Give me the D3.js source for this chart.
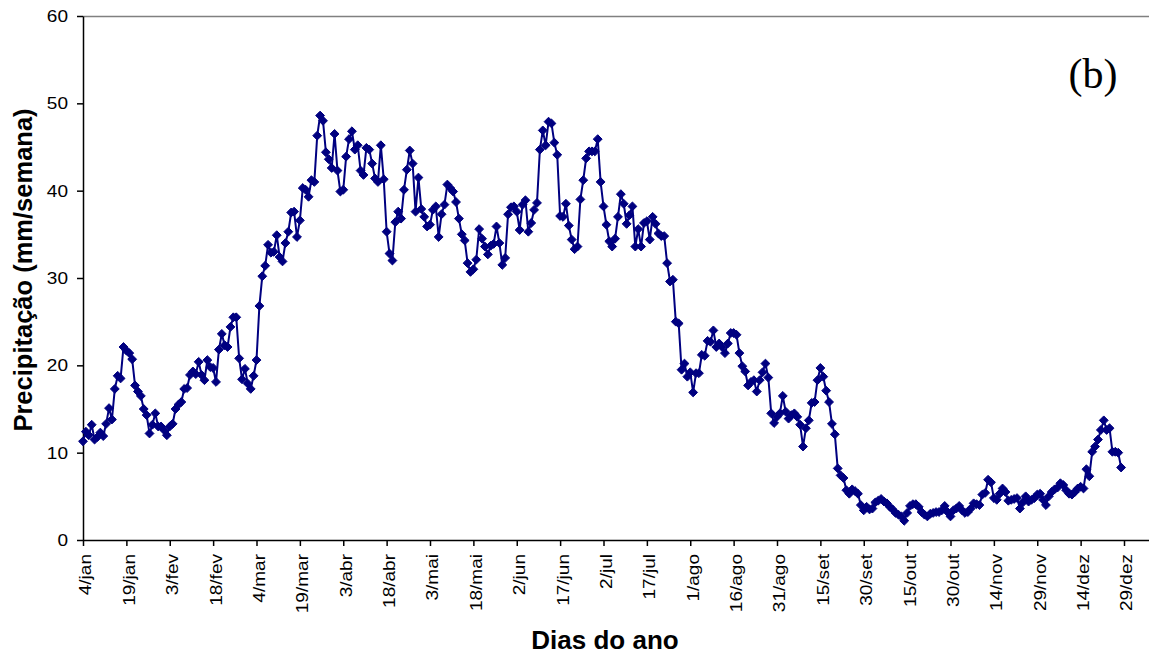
<!DOCTYPE html>
<html>
<head>
<meta charset="utf-8">
<script src="https://cdn.jsdelivr.net/npm/d3@7"></script>
<style>
  body { margin: 0; background: #fff; }
  svg { display: block; }
</style>
</head>
<body>
<div id="root"></div>
<script>
// tick labels, one every 15 days starting 4/jan
const tickLabels = ['4/jan', '19/jan', '3/fev', '18/fev', '4/mar', '19/mar', '3/abr', '18/abr',
  '3/mai', '18/mai', '2/jun', '17/jun', '2/jul', '17/jul', '1/ago', '16/ago', '31/ago',
  '15/set', '30/set', '15/out', '30/out', '14/nov', '29/nov', '14/dez', '29/dez'];
const yTicks = [0, 10, 20, 30, 40, 50, 60];

// weekly rainfall (mm/semana), one value per day, grouped by 15-day block
const janFeb = [
  11.3, 12.4, 12.0, 13.2, 11.5, 11.8, 12.3, 11.9, 13.3, 15.1, 13.8, 17.3, 18.8, 18.5, 22.1,
  21.7, 21.4, 20.7, 17.7, 17.0, 16.5, 15.0, 14.3, 12.2, 13.2, 14.5, 13.0, 13.0, 12.6, 12.0,
  13.0, 13.3, 15.0, 15.5, 15.8, 17.3, 17.4, 18.9, 19.3, 19.0, 20.4, 18.9, 18.3, 20.6, 19.8,
  19.7, 18.1, 21.8, 23.6, 22.3, 22.1, 24.4, 25.5, 25.5, 20.8, 18.4, 19.6, 17.9, 17.3, 18.8
];
const marApr = [
  20.6, 26.8, 30.2, 31.4, 33.8, 32.9, 33.0, 34.9, 32.4, 31.9, 34.0, 35.3, 37.5, 37.6, 34.7,
  36.6, 40.3, 40.1, 39.3, 41.2, 41.0, 46.3, 48.6, 48.0, 44.4, 43.6, 42.6, 46.5, 42.3, 39.9,
  40.1, 43.9, 45.9, 46.8, 44.7, 45.2, 42.3, 41.8, 44.9, 44.7, 43.1, 41.4, 41.0, 45.2, 41.3,
  35.3, 32.8, 32.0, 36.4, 37.6, 36.8, 40.1, 42.4, 44.6, 43.1, 37.6, 41.5, 37.9, 37.0, 35.9
];
const maiJun = [
  36.1, 37.8, 38.2, 34.7, 37.3, 38.4, 40.7, 40.3, 39.9, 38.7, 36.8, 35.0, 34.3, 31.7, 30.7,
  31.0, 32.1, 35.6, 34.5, 33.6, 32.7, 33.7, 33.9, 35.9, 34.0, 31.5, 32.3, 37.3, 38.1, 38.2,
  37.6, 35.5, 38.4, 38.9, 35.3, 36.3, 37.8, 38.6, 44.7, 46.9, 45.2, 47.9, 47.7, 45.5, 44.1,
  37.1, 37.0, 38.5, 36.0, 34.4, 33.3, 33.6, 39.0, 41.2, 43.7, 44.5, 44.5, 44.5, 45.9, 41.0
];
const julAgo = [
  38.2, 36.1, 34.2, 33.6, 34.5, 37.0, 39.6, 38.5, 36.2, 37.2, 38.2, 33.6, 35.6, 33.6, 36.3,
  36.5, 34.4, 37.0, 36.2, 35.1, 34.8, 34.8, 31.7, 29.6, 29.8, 25.0, 24.8, 19.5, 20.2, 18.7,
  19.2, 16.9, 19.1, 19.1, 21.2, 21.1, 22.8, 22.7, 24.0, 22.1, 22.5, 22.1, 21.4, 22.5, 23.7,
  23.7, 23.5, 21.4, 19.9, 19.3, 17.7, 18.1, 18.3, 17.0, 18.3, 19.2, 20.2, 18.6, 14.5, 13.4
];
const setOut = [
  14.1, 14.5, 16.5, 14.7, 13.9, 14.3, 14.5, 14.1, 13.2, 10.7, 12.8, 13.7, 15.7, 15.8, 18.3,
  19.7, 18.7, 17.1, 15.8, 13.3, 12.1, 8.2, 7.4, 7.1, 5.7, 5.3, 5.8, 5.6, 5.3, 4.0,
  3.4, 3.8, 3.5, 3.6, 4.3, 4.5, 4.7, 4.4, 4.2, 3.8, 3.5, 3.1, 2.9, 2.7, 2.2,
  3.1, 3.9, 4.1, 4.1, 3.8, 3.2, 2.9, 2.7, 3.0, 3.1, 3.2, 3.2, 3.4, 3.9, 3.2
];
const novDez = [
  2.7, 3.4, 3.6, 3.9, 3.4, 3.1, 3.2, 3.6, 4.2, 4.1, 4.0, 5.2, 5.4, 6.9, 6.6,
  4.8, 4.6, 5.3, 5.9, 5.5, 4.5, 4.6, 4.7, 4.8, 3.6, 4.3, 5.0, 4.4, 4.6, 4.8,
  5.2, 5.3, 4.6, 4.0, 5.0, 5.5, 5.8, 6.0, 6.5, 6.3, 5.7, 5.3, 5.2, 5.5, 5.9,
  6.1, 5.9, 8.1, 7.3, 10.1, 10.7, 11.5, 12.6, 13.7, 12.6, 12.8, 10.1, 10.1, 10.0, 8.3
];

const values = [...janFeb, ...marApr, ...maiJun, ...julAgo, ...setOut, ...novDez];
const data = values.map((v, i) => ({ day: i, value: v }));

const W = 1149, H = 659;
const plotLeft = 83, plotRight = 1149, plotTop = 16, plotBottom = 540;
const pxPerDay = (1124 - plotLeft) / 360;
const font = 'Arial, "Liberation Sans", sans-serif';

const svg = d3.select('#root').append('svg').attr('width', W).attr('height', H);

const x = d3.scaleLinear().domain([0, (plotRight - plotLeft) / pxPerDay]).range([plotLeft, plotRight]);
const y = d3.scaleLinear().domain([0, 60]).range([plotBottom, plotTop]);

// top border
svg.append('line')
  .attr('x1', plotLeft).attr('x2', plotRight).attr('y1', plotTop + 0.5).attr('y2', plotTop + 0.5)
  .attr('stroke', '#808080').attr('stroke-width', 1.5);

// y axis
const yAxis = svg.append('g')
  .attr('transform', `translate(${plotLeft},0)`)
  .call(d3.axisLeft(y).tickValues(yTicks).tickSize(6).tickSizeOuter(0).tickPadding(0));
yAxis.selectAll('line, path').attr('stroke', '#000').attr('stroke-width', 1.5);
yAxis.selectAll('text')
  .attr('font-family', font).attr('font-size', 17).attr('fill', '#000')
  .attr('x', 0)
  .attr('transform', 'translate(-15,0) scale(1.12,1)');

// x axis
const xAxis = svg.append('g')
  .attr('transform', `translate(0,${plotBottom})`)
  .call(d3.axisBottom(x).tickValues(tickLabels.map((d, i) => i * 15))
    .tickFormat((d, i) => tickLabels[i]).tickSize(6).tickSizeOuter(0));
xAxis.selectAll('line, path').attr('stroke', '#000').attr('stroke-width', 1.5);
xAxis.selectAll('text')
  .attr('font-family', font).attr('font-size', 17).attr('fill', '#000')
  .attr('text-anchor', 'end')
  .attr('dy', '0.35em')
  .attr('x', 0).attr('y', 0)
  .attr('transform', 'translate(2,14) rotate(-90) scale(1.12,1)');

// series line
const line = d3.line().x(d => x(d.day)).y(d => y(d.value));
svg.append('path')
  .datum(data)
  .attr('d', line)
  .attr('fill', 'none')
  .attr('stroke', '#000080')
  .attr('stroke-width', 2);

// diamond markers
const diamond = d3.symbol().type(d3.symbolDiamond2).size(50);
svg.append('g').selectAll('path')
  .data(data)
  .join('path')
  .attr('d', diamond)
  .attr('transform', d => `translate(${x(d.day)},${y(d.value)})`)
  .attr('fill', '#000080')
  .attr('stroke', '#000080')
  .attr('stroke-width', 1);

// titles
svg.append('text')
  .attr('x', 605).attr('y', 649)
  .attr('text-anchor', 'middle')
  .attr('font-family', font)
  .attr('font-weight', 'bold').attr('font-size', 26)
  .text('Dias do ano');

svg.append('text')
  .attr('transform', 'translate(32,270) rotate(-90)')
  .attr('text-anchor', 'middle')
  .attr('font-family', font)
  .attr('font-weight', 'bold').attr('font-size', 25.5)
  .text('Precipitação (mm/semana)');

svg.append('text')
  .attr('x', 1093).attr('y', 88)
  .attr('text-anchor', 'middle')
  .attr('font-family', '"Times New Roman", "Liberation Serif", serif')
  .attr('font-size', 42)
  .text('(b)');
</script>
</body>
</html>
